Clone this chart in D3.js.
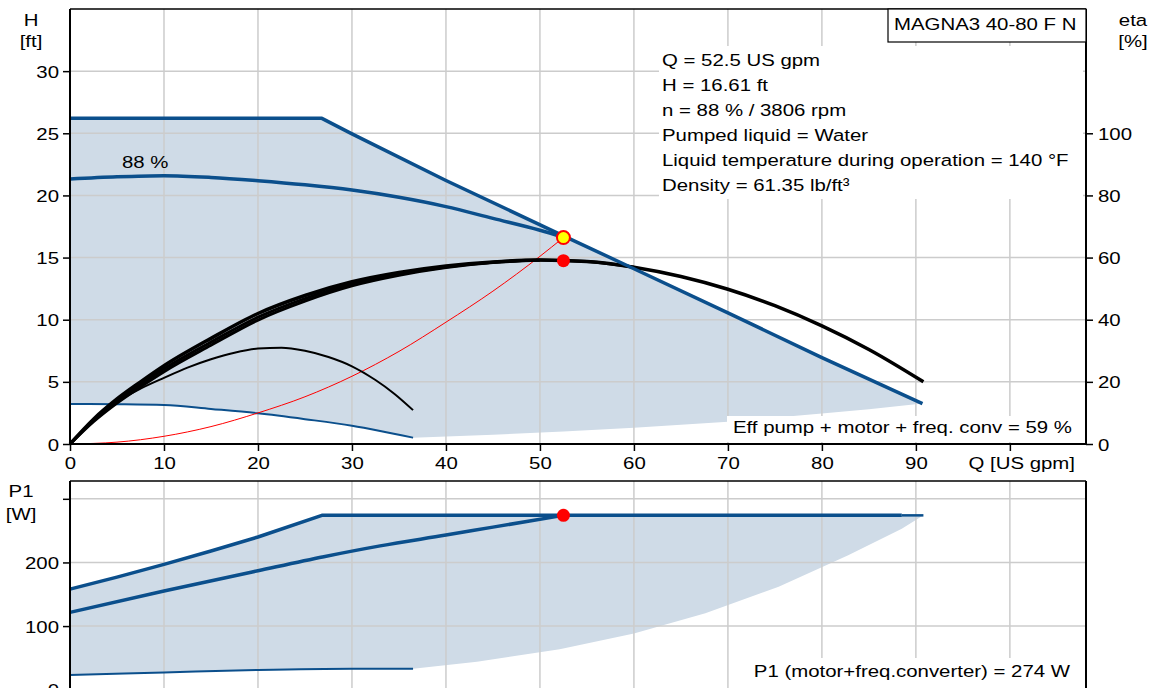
<!DOCTYPE html>
<html><head><meta charset="utf-8">
<script src="https://cdn.jsdelivr.net/npm/d3@7"></script>
<style>
body{margin:0;background:#fff}
svg{display:block}
text{font-family:"Liberation Sans",Arial,sans-serif;font-size:17px;fill:#000}
</style>
</head><body>
<svg id="c" width="1156" height="688"></svg>
<script>
// ---------- data ----------
const qTicks   = [0,10,20,30,40,50,60,70,80,90,100];
const hTicks   = [0,5,10,15,20,25,30];
const etaTicks = [0,20,40,60,80,100];
const pTicks   = [0,100,200,300];

// max-speed QH curve
const maxQ = [0, 26.8, 30, 40, 52.5, 60, 70, 80, 90.7];
const maxH = [26.2, 26.2, 24.95, 21.2, 16.75, 14.1, 10.55, 6.95, 3.25];
// 88 % speed QH curve
const s88Q = [0, 5, 10, 15, 20, 25, 30, 35, 40, 45, 50, 52.5];
const s88H = [21.32, 21.5, 21.59, 21.45, 21.18, 20.85, 20.43, 19.85, 19.1, 18.15, 17.2, 16.65];
// min-speed QH curve
const minQ = [0, 5, 10, 15, 20, 25, 30, 33, 36.5];
const minH = [3.22, 3.2, 3.14, 2.82, 2.47, 2.0, 1.47, 1.05, 0.51];
// lower edge of the operating area (QH)
const lowQ = [36.5, 45, 52.5, 60, 70, 80, 85, 90.7];
const lowH = [0.51, 0.75, 1.0, 1.3, 1.8, 2.45, 2.8, 3.25];

// efficiency curves [%]
const effAQ = [0, 2.5, 5, 7.5, 10, 15, 20, 25, 30, 35, 40, 45, 50, 55, 60, 65, 70, 75, 80, 85, 90.8];
const effAE = [0, 8, 14.5, 20, 25.2, 34, 42, 47.8, 52.2, 55.2, 57.3, 58.6, 59.2, 58.7, 56.9, 53.9, 49.8, 44.5, 38.0, 30.4, 20];
const effBQ = [0, 2.5, 5, 7.5, 10, 15, 20, 25, 30, 35, 40, 45, 50, 55, 60];
const effBE = [0, 7.6, 13.8, 19.2, 24.2, 32.8, 40.8, 46.8, 51.5, 54.7, 57, 58.5, 59.2, 58.7, 56.9];
const effCQ = [0, 2.5, 5, 7.5, 10, 15, 20, 25, 30, 35, 40, 45, 50];
const effCE = [0, 7.2, 13.2, 18.4, 23.3, 31.8, 39.9, 46, 50.9, 54.3, 56.8, 58.4, 59.1];
const effMinQ = [0, 2.5, 5, 7.5, 10, 12.5, 15, 17.5, 20, 22.5, 25, 27.5, 30, 32.5, 34.5, 36.5];
const effMinE = [0, 7.5, 13.5, 17.8, 21.3, 24.6, 27.3, 29.4, 30.7, 31.0, 30.0, 28.0, 25.0, 20.6, 16.2, 10.9];

// system curve
const sysQ = [0, 5, 10, 15, 20, 25, 30, 35, 40, 45, 50, 52.5];
const sysH = [0, 0.15, 0.62, 1.4, 2.5, 3.8, 5.45, 7.45, 9.8, 12.3, 15.1, 16.61];

// duty point
const dutyQ = 52.5, dutyH = 16.61, dutyEta = 59, dutyP = 274;

// P1 curves [W]
const p1MaxQ = [0, 5, 10, 15, 20, 26.8, 88.5];
const p1MaxP = [158, 177, 197, 218, 240, 274, 274];
const p1TailQ = [88.5, 90.8];
const p1TailP = [274, 274];
const p188Q = [0, 10, 20, 27, 33, 40, 45, 52.5];
const p188P = [121.5, 155, 187, 209, 226, 243, 255.5, 274];
const p1MinQ = [0, 10, 20, 30, 36.5];
const p1MinP = [23, 27, 31, 33, 33];
const p1LowQ = [36.5, 43.3, 52.1, 60, 67.6, 75.4, 82.8, 88.5, 90.8];
const p1LowP = [33, 44, 63.4, 88.5, 120, 161.7, 211.5, 253, 274];

const infoLines = ["Q = 52.5 US gpm","H = 16.61 ft","n = 88 % / 3806 rpm","Pumped liquid = Water",
  "Liquid temperature during operation = 140 °F","Density = 61.35 lb/ft³"];

// ---------- drawing ----------
const SX = 1.2;
const BLUE = "#0b4f8c", FILL = "#cfdbe7", GRID = "#cccccc";
const svg = d3.select("#c");
const x = d3.scaleLinear().domain([0,108.1]).range([70,1086]);
const yH = d3.scaleLinear().domain([0,35]).range([444,9]);
const yE = d3.scaleLinear().domain([0,140]).range([444,9]);
const yP = d3.scaleLinear().domain([0,328]).range([689.7,481]);

const zip = (a,b)=>a.map((v,i)=>[v,b[i]]);
function txt(g,px,py,s,anchor){
  return g.append("text").attr("transform",`translate(${px},${py}) scale(${SX},1)`)
    .attr("text-anchor",anchor||"start").text(s);
}

// fills
const topPoly = [[0,minH[0]]].concat(zip(maxQ,maxH), zip(lowQ,lowH).reverse(), zip(minQ,minH).reverse());
svg.append("path").attr("d", d3.line().x(d=>x(d[0])).y(d=>yH(d[1]))(topPoly)).attr("fill",FILL);
const botPoly = [[0,p1MinP[0]]].concat(zip(p1MaxQ,p1MaxP), zip(p1TailQ,p1TailP).slice(1), zip(p1LowQ,p1LowP).reverse(), zip(p1MinQ,p1MinP).reverse());
svg.append("path").attr("d", d3.line().x(d=>x(d[0])).y(d=>yP(d[1]))(botPoly)).attr("fill",FILL);

// grids
const gGrid = svg.append("g").attr("stroke",GRID).attr("stroke-width",1.5);
qTicks.slice(1).forEach(q=>{
  gGrid.append("line").attr("x1",x(q)).attr("x2",x(q)).attr("y1",yH(35)).attr("y2",yH(0));
  gGrid.append("line").attr("x1",x(q)).attr("x2",x(q)).attr("y1",yP(328)).attr("y2",yP(0));
});
hTicks.slice(1).forEach(h=>gGrid.append("line").attr("x1",x(0)).attr("x2",x(108.1)).attr("y1",yH(h)).attr("y2",yH(h)));
pTicks.slice(1).forEach(p=>gGrid.append("line").attr("x1",x(0)).attr("x2",x(108.1)).attr("y1",yP(p)).attr("y2",yP(p)));

// curves
function curve(xs,ys,yS,color,w,cv){
  svg.append("path").attr("d", d3.line().curve(cv||d3.curveLinear).x(d=>x(d[0])).y(d=>yS(d[1]))(zip(xs,ys)))
    .attr("fill","none").attr("stroke",color).attr("stroke-width",w).attr("stroke-linejoin","round");
}
const mono = d3.curveMonotoneX;
curve(minQ,minH,yH,BLUE,2,mono);
curve(sysQ,sysH,yH,"#ff0000",1,mono);
curve(effMinQ,effMinE,yE,"#000",2,mono);
curve(effCQ,effCE,yE,"#000",3,mono);
curve(effBQ,effBE,yE,"#000",3,mono);
curve(effAQ,effAE,yE,"#000",3.5,mono);
curve(s88Q,s88H,yH,BLUE,3.5,mono);
curve(maxQ,maxH,yH,BLUE,3.5);
curve(p1MinQ,p1MinP,yP,BLUE,2,mono);
curve(p188Q,p188P,yP,BLUE,3.5,mono);
curve(p1TailQ,p1TailP,yP,BLUE,2.5);
curve(p1MaxQ,p1MaxP,yP,BLUE,3.5);

// white text boxes
svg.append("rect").attr("x",659).attr("y",46).attr("width",424).attr("height",153).attr("fill","#fff");
svg.append("rect").attr("x",727).attr("y",416).attr("width",352).attr("height",26).attr("fill","#fff");
svg.append("rect").attr("x",749).attr("y",658).attr("width",330).attr("height",30).attr("fill","#fff");

// frames
function frame(y0,y1){
  const f = svg.append("g").attr("stroke","#000").attr("fill","none");
  f.append("line").attr("x1",70).attr("x2",1086).attr("y1",y0).attr("y2",y0).attr("stroke-width",1.5);
  f.append("line").attr("x1",70).attr("x2",70).attr("y1",y0).attr("y2",y1).attr("stroke-width",2);
  f.append("line").attr("x1",1086).attr("x2",1086).attr("y1",y0).attr("y2",y1).attr("stroke-width",2);
  f.append("line").attr("x1",70).attr("x2",1086).attr("y1",y1).attr("y2",y1).attr("stroke-width",2);
}
frame(yH(35),yH(0));
frame(yP(328),yP(0));

// axes
function styleAxis(g, tx, ty, anchor){
  g.select(".domain").remove();
  g.selectAll(".tick line").attr("stroke","#000").attr("stroke-width",1.5);
  g.selectAll(".tick text").attr("x",null).attr("y",null).attr("dy",null)
    .attr("text-anchor",anchor)
    .attr("transform",`translate(${tx},${ty}) scale(${SX},1)`)
    .style("font-size","17px").style("font-family",'"Liberation Sans",Arial,sans-serif');
}
const axL = svg.append("g").attr("transform","translate(70,0)")
  .call(d3.axisLeft(yH).tickValues(hTicks).tickSize(7));
styleAxis(axL,-11,6,"end");
const axR = svg.append("g").attr("transform","translate(1086,0)")
  .call(d3.axisRight(yE).tickValues(etaTicks).tickSize(7));
styleAxis(axR,12,6,"start");
const axB = svg.append("g").attr("transform",`translate(0,${yH(0)})`)
  .call(d3.axisBottom(x).tickValues(qTicks).tickSize(7).tickFormat(d=>d===100?"":d));
styleAxis(axB,0,25,"middle");
const axP = svg.append("g").attr("transform","translate(70,0)")
  .call(d3.axisLeft(yP).tickValues(pTicks).tickSize(7).tickFormat(d=>d===300?"":d));
styleAxis(axP,-11,6,"end");

// duty points
svg.append("circle").attr("cx",x(dutyQ)).attr("cy",yE(dutyEta)).attr("r",6.5).attr("fill","#ff0000");
svg.append("circle").attr("cx",x(dutyQ)).attr("cy",yP(dutyP)).attr("r",6.5).attr("fill","#ff0000");
svg.append("circle").attr("cx",x(dutyQ)).attr("cy",yH(dutyH)).attr("r",6.5).attr("fill","#ffff00")
  .attr("stroke","#ff0000").attr("stroke-width",2);

// texts
const T = svg.append("g");
txt(T,31,26,"H","middle");
txt(T,31,47,"[ft]","middle");
txt(T,1133,26,"eta","middle");
txt(T,1133,47,"[%]","middle");
txt(T,21,497,"P1","middle");
txt(T,21,520,"[W]","middle");
txt(T,1075,469,"Q [US gpm]","end");
txt(T,122,168,"88 %","start");
infoLines.forEach((s,i)=>txt(T,662,66+25*i,s,"start"));
txt(T,1072,433,"Eff pump + motor + freq. conv = 59 %","end");
txt(T,1070,677,"P1 (motor+freq.converter) = 274 W","end");
// title box
svg.append("rect").attr("x",888).attr("y",9).attr("width",198).attr("height",33)
  .attr("fill","#fff").attr("stroke","#000").attr("stroke-width",1.2);
txt(T,894,30,"MAGNA3 40-80 F N","start");
T.raise();
</script>
</body></html>
